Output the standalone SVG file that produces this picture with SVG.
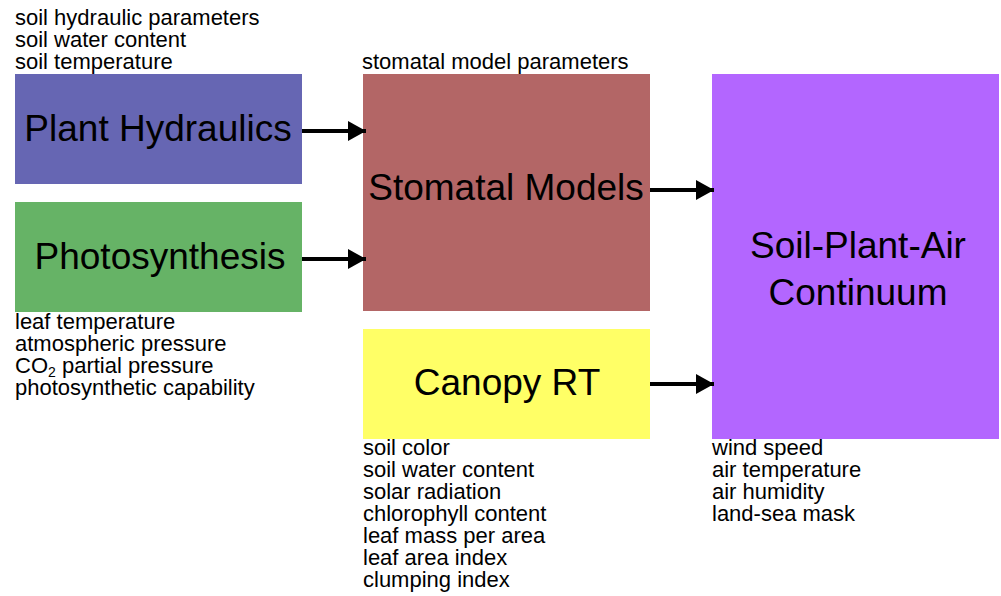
<svg xmlns="http://www.w3.org/2000/svg" width="1001" height="596" viewBox="0 0 1001 596">
<style>
.lbl{font-family:"Liberation Sans",Arial,sans-serif;font-size:22px;fill:#000}
.big{font-family:"Liberation Sans",Arial,sans-serif;font-size:37px;fill:#000;text-anchor:middle}
.arr{stroke:#000;stroke-width:4;fill:none;marker-end:url(#ah)}
</style>
<defs>
<marker id="ah" markerUnits="userSpaceOnUse" markerWidth="20" markerHeight="20" refX="18" refY="10" orient="auto">
<path d="M0,0 L18,10 L0,20 Z" fill="#000"/>
</marker>
</defs>
<rect width="1001" height="596" fill="#fff"/>
<g id="plant-hydraulics">
<rect x="15" y="74" width="287" height="110" fill="#6666b3"/>
<text class="big" x="158" y="141">Plant Hydraulics</text>
<text class="lbl" x="15" y="25">soil hydraulic parameters</text>
<text class="lbl" x="15" y="47">soil water content</text>
<text class="lbl" x="15" y="69">soil temperature</text>
</g>
<g id="photosynthesis">
<rect x="15" y="202" width="287" height="110" fill="#66b366"/>
<text class="big" x="160" y="269">Photosynthesis</text>
<text class="lbl" x="15" y="329">leaf temperature</text>
<text class="lbl" x="15" y="351">atmospheric pressure</text>
<text class="lbl" x="15" y="373">CO<tspan font-size="14" dy="4">2</tspan><tspan dy="-4"> partial pressure</tspan></text>
<text class="lbl" x="15" y="395">photosynthetic capability</text>
</g>
<g id="stomatal-models">
<rect x="363" y="74" width="287" height="237" fill="#b36666"/>
<text class="big" x="506" y="200">Stomatal Models</text>
<text class="lbl" x="362" y="69">stomatal model parameters</text>
</g>
<g id="canopy-rt">
<rect x="363" y="329" width="287" height="110" fill="#ffff66"/>
<text class="big" x="507" y="395">Canopy RT</text>
<text class="lbl" x="363" y="455">soil color</text>
<text class="lbl" x="363" y="477">soil water content</text>
<text class="lbl" x="363" y="499">solar radiation</text>
<text class="lbl" x="363" y="521">chlorophyll content</text>
<text class="lbl" x="363" y="543">leaf mass per area</text>
<text class="lbl" x="363" y="565">leaf area index</text>
<text class="lbl" x="363" y="587">clumping index</text>
</g>
<g id="spac">
<rect x="712" y="74" width="287" height="365" fill="#b366ff"/>
<text class="big" x="858" y="258">Soil-Plant-Air</text>
<text class="big" x="858" y="305">Continuum</text>
<text class="lbl" x="712" y="455">wind speed</text>
<text class="lbl" x="712" y="477">air temperature</text>
<text class="lbl" x="712" y="499">air humidity</text>
<text class="lbl" x="712" y="521">land-sea mask</text>
</g>
<g id="connectors">
<line class="arr" x1="302" y1="131" x2="366" y2="131"/>
<line class="arr" x1="302" y1="259" x2="366" y2="259"/>
<line class="arr" x1="650" y1="190" x2="714" y2="190"/>
<line class="arr" x1="650" y1="384" x2="714" y2="384"/>
</g>
</svg>
